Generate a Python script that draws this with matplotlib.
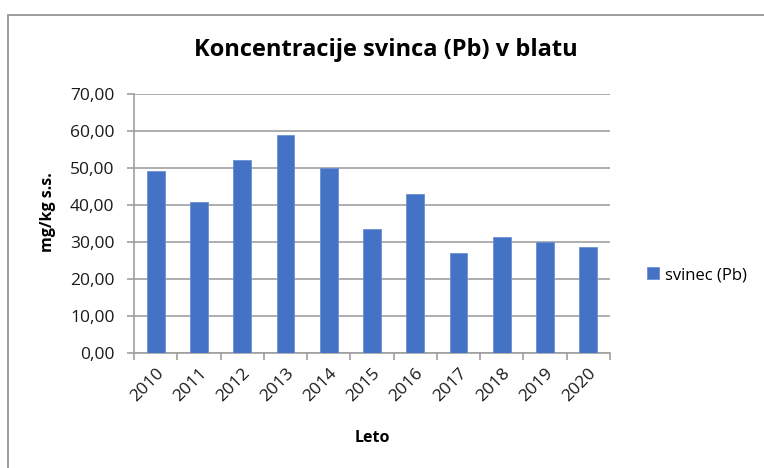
import matplotlib.pyplot as plt
from matplotlib.patches import Rectangle
from matplotlib.ticker import FuncFormatter, FixedLocator
import numpy as np

plt.rcParams['font.family'] = ['Open Sans', 'DejaVu Sans']

years = ['2010', '2011', '2012', '2013', '2014', '2015', '2016', '2017', '2018', '2019', '2020']
lead = [49.1, 40.8, 52.2, 59.0, 50.1, 33.5, 43.0, 27.1, 31.4, 30.0, 28.7]

bar_color = '#4472C4'
grid_color = '#A0A0A0'
text_color = '#1A1A1A'

fig = plt.figure(figsize=(7.64, 4.68), dpi=100)
# outer chart frame
fig.patches.append(Rectangle((8 / 764, -0.1), 1.0, 1 - 15 / 468 + 0.1,
                             transform=fig.transFigure, fill=False,
                             edgecolor='#8C8C8C', linewidth=1.2))

ax = fig.add_axes([134 / 764, 1 - 353 / 468, (610 - 134) / 764, (353 - 94) / 468])
x = np.arange(len(years))
ax.bar(x, lead, width=0.41, color=bar_color, edgecolor='#6D8FD3', linewidth=0.6,
       label='svinec (Pb)', zorder=3)

ax.set_xlim(-0.5, len(years) - 0.5)
ax.set_ylim(0, 70)
ax.set_yticks(np.arange(0, 71, 10))
ax.yaxis.set_major_formatter(FuncFormatter(lambda v, p: f'{v:.2f}'.replace('.', ',')))
ax.grid(axis='y', color=grid_color, linewidth=1.2, zorder=0)

ax.set_xticks(x)
ax.set_xticklabels(years, rotation=45, ha='right', rotation_mode='anchor',
                   fontsize=12.5, color=text_color)
ax.xaxis.set_minor_locator(FixedLocator(np.arange(-0.5, len(years), 1.0)))
ax.tick_params(axis='x', which='major', length=0, pad=9)
ax.tick_params(axis='x', which='minor', length=5, color=grid_color, width=1.2)
ax.tick_params(axis='y', length=5, color=grid_color, width=1.2, labelsize=12.5,
               labelcolor=text_color, pad=9)

for s in ['top', 'right']:
    ax.spines[s].set_visible(False)
for s in ['left', 'bottom']:
    ax.spines[s].set_color(grid_color)
    ax.spines[s].set_linewidth(1.2)

fig.text(386 / 764, 1 - 50 / 468, 'Koncentracije svinca (Pb) v blatu',
         ha='center', va='center', fontsize=17, fontweight='bold', color='black')
fig.text(48 / 764, 1 - 212 / 468, 'mg/kg s.s.', rotation=90, ha='center', va='center',
         fontsize=11.5, fontweight='bold', color='black')
fig.text(372 / 764, 1 - 438 / 468, 'Leto', ha='center', va='center',
         fontsize=11.5, fontweight='bold', color='black')

ax.legend(loc='center left', bbox_to_anchor=(632 / 764, 1 - 275 / 468),
          bbox_transform=fig.transFigure, frameon=False, fontsize=12,
          handlelength=0.7, handleheight=0.7, handletextpad=0.4)

fig.savefig('out.png', dpi=100)
